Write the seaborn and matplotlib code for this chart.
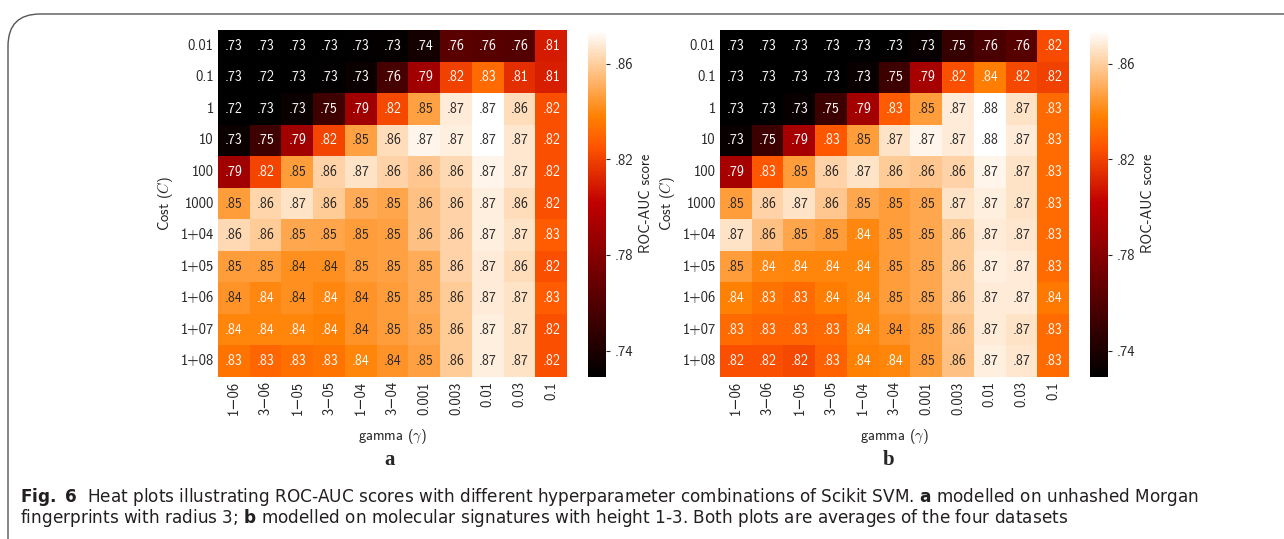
import numpy as np
import pandas as pd
import seaborn as sns
import matplotlib.pyplot as plt
from matplotlib.patches import FancyBboxPatch
from matplotlib.ticker import FuncFormatter

cost = ['0.01', '0.1', '1', '10', '100', '1000', '1+04', '1+05', '1+06', '1+07', '1+08']
gamma = ['1\u221206', '3\u221206', '1\u221205', '3\u221205', '1\u221204', '3\u221204',
         '0.001', '0.003', '0.01', '0.03', '0.1']

# a: unhashed Morgan fingerprints, radius 3
auc_morgan = [
    [.729, .729, .729, .729, .730, .731, .737, .763, .762, .761, .809],
    [.729, .724, .729, .730, .733, .756, .790, .820, .832, .815, .810],
    [.724, .729, .733, .753, .790, .822, .847, .868, .874, .864, .824],
    [.733, .753, .790, .821, .847, .864, .871, .869, .874, .867, .824],
    [.790, .821, .846, .861, .866, .861, .858, .863, .871, .867, .824],
    [.846, .862, .866, .859, .850, .848, .856, .861, .869, .864, .824],
    [.863, .859, .849, .848, .846, .847, .856, .861, .869, .866, .827],
    [.846, .846, .842, .842, .846, .847, .850, .861, .868, .864, .824],
    [.843, .840, .842, .840, .843, .846, .850, .859, .868, .866, .827],
    [.839, .839, .839, .838, .843, .846, .849, .859, .869, .866, .824],
    [.834, .830, .833, .834, .839, .843, .847, .859, .869, .866, .824],
]

# b: molecular signatures, height 1-3
auc_signature = [
    [.729, .729, .729, .729, .729, .729, .732, .750, .757, .762, .823],
    [.729, .729, .729, .729, .732, .752, .792, .824, .837, .822, .820],
    [.729, .729, .732, .752, .791, .827, .846, .868, .876, .866, .832],
    [.732, .752, .792, .826, .846, .866, .871, .868, .876, .868, .832],
    [.792, .826, .846, .861, .866, .859, .858, .861, .871, .866, .832],
    [.846, .861, .866, .858, .849, .846, .849, .866, .869, .866, .832],
    [.866, .856, .848, .846, .840, .846, .849, .859, .868, .867, .832],
    [.846, .840, .839, .839, .839, .846, .849, .859, .869, .868, .832],
    [.838, .834, .832, .837, .839, .846, .849, .859, .868, .868, .836],
    [.832, .830, .830, .831, .839, .843, .846, .857, .868, .866, .832],
    [.824, .824, .822, .829, .838, .839, .846, .856, .869, .867, .832],
]

sns.set_style('white')
plt.rcParams['font.family'] = ['cmss10', 'DejaVu Sans']
plt.rcParams['mathtext.fontset'] = 'custom'
plt.rcParams['mathtext.bf'] = 'DejaVu Sans:bold'
plt.rcParams['mathtext.rm'] = 'DejaVu Sans'

nodot = FuncFormatter(lambda v, p: f'{v:.2f}'.lstrip('0'))

fig = plt.figure(figsize=(12.84, 5.39), dpi=100)
W, H = 1284, 539

# rounded frame of the figure box
frame = FancyBboxPatch((8 / W, -0.2), 1.2, 0.2 + (H - 14) / H,
                       boxstyle='round,pad=0,rounding_size=0.025',
                       transform=fig.transFigure, fill=False,
                       edgecolor='#555555', linewidth=1.0, mutation_aspect=W / H)
fig.patches.append(frame)

panels = [(auc_morgan, 218, 588, 'a', 390), (auc_signature, 720, 1090, 'b', 889)]
for data, x0, cx0, letter, lx in panels:
    ax = fig.add_axes([x0 / W, (H - 377) / H, 349 / W, 347 / H])
    cax = fig.add_axes([cx0 / W, (H - 377) / H, 18 / W, 347 / H])
    df = pd.DataFrame(data, index=cost, columns=gamma)
    labels = np.vectorize(lambda v: f'{v:.2f}'.lstrip('0'))(df.values)
    sns.heatmap(df, ax=ax, cbar_ax=cax, cmap='gist_heat', vmin=0.729, vmax=0.874,
                annot=labels, fmt='', annot_kws={'size': 10},
                cbar_kws={'label': 'ROC-AUC score', 'ticks': [.74, .78, .82, .86],
                          'format': nodot})
    ax.tick_params(length=0, labelsize=10.5, pad=3)
    ax.set_yticklabels(cost, rotation=0)
    ax.set_xticklabels(gamma, rotation=90)
    ax.set_ylabel('Cost ($C$)', fontsize=10.5, math_fontfamily='cm')
    ax.set_xlabel(r'gamma ($\gamma$)', fontsize=10.5, math_fontfamily='cm', labelpad=8)
    cax.tick_params(labelsize=10.5, length=3)
    cax.yaxis.label.set_size(10.5)
    fig.text(lx / W, (H - 460) / H, letter, family='Liberation Serif', weight='bold',
             fontsize=15, ha='center', va='center')

cap1 = (r'$\mathbf{Fig.\ 6}$  Heat plots illustrating ROC-AUC scores with different '
        r'hyperparameter combinations of Scikit SVM. $\mathbf{a}$ modelled on unhashed Morgan')
cap2 = (r'fingerprints with radius 3; $\mathbf{b}$ modelled on molecular signatures with '
        r'height 1-3. Both plots are averages of the four datasets')
fig.text(20 / W, (H - 497) / H, cap1, family='DejaVu Sans',
         fontsize=12.2, va='center', color='#231f20')
fig.text(20 / W, (H - 518) / H, cap2, family='DejaVu Sans',
         fontsize=12.2, va='center', color='#231f20')

plt.savefig('out.png', dpi=100)
